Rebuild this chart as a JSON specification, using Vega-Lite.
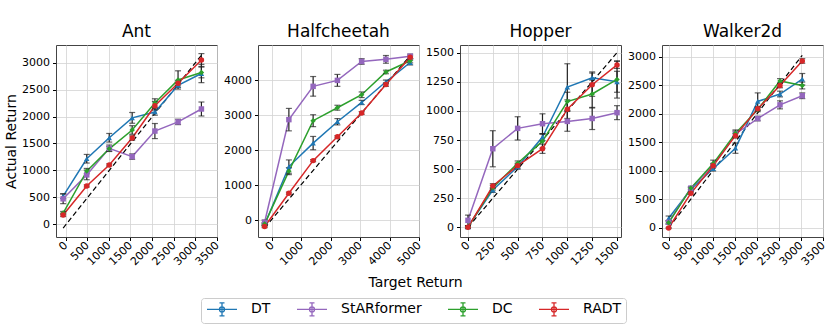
{
  "$schema": "https://vega.github.io/schema/vega-lite/v6.json",
  "padding": {"left": 4, "top": 22, "right": 5, "bottom": 5},
  "datasets": {
    "pts": [
      {"env":"Ant","method":"DT","target":-55,"actual":520,"err":45},
      {"env":"Ant","method":"DT","target":490,"actual":1215,"err":80},
      {"env":"Ant","method":"DT","target":1010,"actual":1605,"err":80},
      {"env":"Ant","method":"DT","target":1540,"actual":1975,"err":100},
      {"env":"Ant","method":"DT","target":2065,"actual":2085,"err":60},
      {"env":"Ant","method":"DT","target":2600,"actual":2580,"err":40},
      {"env":"Ant","method":"DT","target":3140,"actual":2800,"err":170},
      {"env":"Ant","method":"StARformer","target":-55,"actual":470,"err":90},
      {"env":"Ant","method":"StARformer","target":490,"actual":915,"err":90},
      {"env":"Ant","method":"StARformer","target":1010,"actual":1410,"err":60},
      {"env":"Ant","method":"StARformer","target":1540,"actual":1255,"err":50},
      {"env":"Ant","method":"StARformer","target":2065,"actual":1730,"err":140},
      {"env":"Ant","method":"StARformer","target":2600,"actual":1900,"err":50},
      {"env":"Ant","method":"StARformer","target":3140,"actual":2140,"err":130},
      {"env":"Ant","method":"DC","target":-55,"actual":205,"err":30},
      {"env":"Ant","method":"DC","target":490,"actual":985,"err":50},
      {"env":"Ant","method":"DC","target":1010,"actual":1400,"err":40},
      {"env":"Ant","method":"DC","target":1540,"actual":1750,"err":80},
      {"env":"Ant","method":"DC","target":2065,"actual":2250,"err":80},
      {"env":"Ant","method":"DC","target":2600,"actual":2680,"err":170},
      {"env":"Ant","method":"DC","target":3140,"actual":2820,"err":100},
      {"env":"Ant","method":"RADT","target":-55,"actual":170,"err":30},
      {"env":"Ant","method":"RADT","target":490,"actual":710,"err":20},
      {"env":"Ant","method":"RADT","target":1010,"actual":1100,"err":20},
      {"env":"Ant","method":"RADT","target":1540,"actual":1600,"err":40},
      {"env":"Ant","method":"RADT","target":2065,"actual":2200,"err":80},
      {"env":"Ant","method":"RADT","target":2600,"actual":2620,"err":50},
      {"env":"Ant","method":"RADT","target":3140,"actual":3050,"err":120},

      {"env":"Halfcheetah","method":"DT","target":-250,"actual":-130,"err":40},
      {"env":"Halfcheetah","method":"DT","target":575,"actual":1530,"err":190},
      {"env":"Halfcheetah","method":"DT","target":1400,"actual":2200,"err":190},
      {"env":"Halfcheetah","method":"DT","target":2225,"actual":2810,"err":90},
      {"env":"Halfcheetah","method":"DT","target":3050,"actual":3360,"err":60},
      {"env":"Halfcheetah","method":"DT","target":3875,"actual":3950,"err":50},
      {"env":"Halfcheetah","method":"DT","target":4700,"actual":4500,"err":70},
      {"env":"Halfcheetah","method":"StARformer","target":-250,"actual":-60,"err":60},
      {"env":"Halfcheetah","method":"StARformer","target":575,"actual":2870,"err":320},
      {"env":"Halfcheetah","method":"StARformer","target":1400,"actual":3820,"err":280},
      {"env":"Halfcheetah","method":"StARformer","target":2225,"actual":3990,"err":170},
      {"env":"Halfcheetah","method":"StARformer","target":3050,"actual":4530,"err":80},
      {"env":"Halfcheetah","method":"StARformer","target":3875,"actual":4590,"err":110},
      {"env":"Halfcheetah","method":"StARformer","target":4700,"actual":4680,"err":60},
      {"env":"Halfcheetah","method":"DC","target":-250,"actual":-110,"err":40},
      {"env":"Halfcheetah","method":"DC","target":575,"actual":1400,"err":100},
      {"env":"Halfcheetah","method":"DC","target":1400,"actual":2840,"err":170},
      {"env":"Halfcheetah","method":"DC","target":2225,"actual":3210,"err":70},
      {"env":"Halfcheetah","method":"DC","target":3050,"actual":3580,"err":80},
      {"env":"Halfcheetah","method":"DC","target":3875,"actual":4230,"err":50},
      {"env":"Halfcheetah","method":"DC","target":4700,"actual":4550,"err":60},
      {"env":"Halfcheetah","method":"RADT","target":-250,"actual":-180,"err":30},
      {"env":"Halfcheetah","method":"RADT","target":575,"actual":770,"err":30},
      {"env":"Halfcheetah","method":"RADT","target":1400,"actual":1700,"err":30},
      {"env":"Halfcheetah","method":"RADT","target":2225,"actual":2380,"err":30},
      {"env":"Halfcheetah","method":"RADT","target":3050,"actual":3060,"err":40},
      {"env":"Halfcheetah","method":"RADT","target":3875,"actual":3870,"err":50},
      {"env":"Halfcheetah","method":"RADT","target":4700,"actual":4650,"err":40},

      {"env":"Hopper","method":"DT","target":0,"actual":5,"err":10},
      {"env":"Hopper","method":"DT","target":250,"actual":320,"err":20},
      {"env":"Hopper","method":"DT","target":500,"actual":520,"err":20},
      {"env":"Hopper","method":"DT","target":750,"actual":775,"err":30},
      {"env":"Hopper","method":"DT","target":1000,"actual":1205,"err":200},
      {"env":"Hopper","method":"DT","target":1250,"actual":1285,"err":50},
      {"env":"Hopper","method":"DT","target":1500,"actual":1250,"err":90},
      {"env":"Hopper","method":"StARformer","target":0,"actual":60,"err":45},
      {"env":"Hopper","method":"StARformer","target":250,"actual":675,"err":155},
      {"env":"Hopper","method":"StARformer","target":500,"actual":850,"err":100},
      {"env":"Hopper","method":"StARformer","target":750,"actual":890,"err":85},
      {"env":"Hopper","method":"StARformer","target":1000,"actual":910,"err":85},
      {"env":"Hopper","method":"StARformer","target":1250,"actual":935,"err":95},
      {"env":"Hopper","method":"StARformer","target":1500,"actual":985,"err":60},
      {"env":"Hopper","method":"DC","target":0,"actual":0,"err":10},
      {"env":"Hopper","method":"DC","target":250,"actual":340,"err":20},
      {"env":"Hopper","method":"DC","target":500,"actual":550,"err":20},
      {"env":"Hopper","method":"DC","target":750,"actual":740,"err":60},
      {"env":"Hopper","method":"DC","target":1000,"actual":1080,"err":80},
      {"env":"Hopper","method":"DC","target":1250,"actual":1145,"err":120},
      {"env":"Hopper","method":"DC","target":1500,"actual":1270,"err":160},
      {"env":"Hopper","method":"RADT","target":0,"actual":0,"err":10},
      {"env":"Hopper","method":"RADT","target":250,"actual":355,"err":20},
      {"env":"Hopper","method":"RADT","target":500,"actual":530,"err":20},
      {"env":"Hopper","method":"RADT","target":750,"actual":675,"err":40},
      {"env":"Hopper","method":"RADT","target":1000,"actual":1015,"err":80},
      {"env":"Hopper","method":"RADT","target":1250,"actual":1225,"err":100},
      {"env":"Hopper","method":"RADT","target":1500,"actual":1395,"err":30},

      {"env":"Walker2d","method":"DT","target":0,"actual":170,"err":40},
      {"env":"Walker2d","method":"DT","target":505,"actual":680,"err":30},
      {"env":"Walker2d","method":"DT","target":1010,"actual":1040,"err":40},
      {"env":"Walker2d","method":"DT","target":1515,"actual":1400,"err":90},
      {"env":"Walker2d","method":"DT","target":2020,"actual":2220,"err":150},
      {"env":"Walker2d","method":"DT","target":2525,"actual":2350,"err":50},
      {"env":"Walker2d","method":"DT","target":3030,"actual":2610,"err":100},
      {"env":"Walker2d","method":"StARformer","target":0,"actual":100,"err":30},
      {"env":"Walker2d","method":"StARformer","target":505,"actual":700,"err":20},
      {"env":"Walker2d","method":"StARformer","target":1010,"actual":1100,"err":30},
      {"env":"Walker2d","method":"StARformer","target":1515,"actual":1650,"err":50},
      {"env":"Walker2d","method":"StARformer","target":2020,"actual":1920,"err":40},
      {"env":"Walker2d","method":"StARformer","target":2525,"actual":2160,"err":70},
      {"env":"Walker2d","method":"StARformer","target":3030,"actual":2320,"err":50},
      {"env":"Walker2d","method":"DC","target":0,"actual":90,"err":20},
      {"env":"Walker2d","method":"DC","target":505,"actual":700,"err":20},
      {"env":"Walker2d","method":"DC","target":1010,"actual":1130,"err":60},
      {"env":"Walker2d","method":"DC","target":1515,"actual":1660,"err":60},
      {"env":"Walker2d","method":"DC","target":2020,"actual":2080,"err":40},
      {"env":"Walker2d","method":"DC","target":2525,"actual":2580,"err":40},
      {"env":"Walker2d","method":"DC","target":3030,"actual":2500,"err":60},
      {"env":"Walker2d","method":"RADT","target":0,"actual":0,"err":10},
      {"env":"Walker2d","method":"RADT","target":505,"actual":610,"err":20},
      {"env":"Walker2d","method":"RADT","target":1010,"actual":1090,"err":30},
      {"env":"Walker2d","method":"RADT","target":1515,"actual":1620,"err":40},
      {"env":"Walker2d","method":"RADT","target":2020,"actual":2090,"err":30},
      {"env":"Walker2d","method":"RADT","target":2525,"actual":2500,"err":40},
      {"env":"Walker2d","method":"RADT","target":3030,"actual":2930,"err":40}
    ],
    "ideal": [
      {"env":"Ant","target":-55,"actual":-75},
      {"env":"Ant","target":3140,"actual":3140},
      {"env":"Halfcheetah","target":-250,"actual":-220},
      {"env":"Halfcheetah","target":4700,"actual":4700},
      {"env":"Hopper","target":0,"actual":0},
      {"env":"Hopper","target":1500,"actual":1500},
      {"env":"Walker2d","target":0,"actual":0},
      {"env":"Walker2d","target":3030,"actual":3030}
    ]
  },
  "hconcat": [
    {
      "title": "Ant",
      "width": 161, "height": 192,
      "data": {"name": "pts"},
      "transform": [{"filter": "datum.env === 'Ant'"}],
      "encoding": {
        "x": {"field":"target","type":"quantitative","scale":{"domain":[-220,3500],"nice":false,"zero":false},"axis":{"title":null,"values":[0,500,1000,1500,2000,2500,3000,3500]}},
        "y": {"field":"actual","type":"quantitative","scale":{"domain":[-240,3330],"nice":false,"zero":false},"axis":{"title":"Actual Return","titlePadding":3,"values":[0,500,1000,1500,2000,2500,3000]}}
      },
      "layer": [
        {"data":{"name":"ideal"},"transform":[{"filter":"datum.env === 'Ant'"}],"mark":{"type":"line","color":"#000","strokeDash":[5,3],"strokeWidth":1.2},"encoding":{}},
        {"mark":{"type":"line","strokeWidth":1.5},"encoding":{"color":{"field":"method","type":"nominal","scale":{"domain":["DT","StARformer","DC","RADT"],"range":["#1f77b4","#9467bd","#2ca02c","#d62728"]},"legend":{"orient":"none","legendX":145,"legendY":253}}}},
        {"mark":{"type":"errorbar","ticks":true,"size":6,"thickness":1.2,"color":"#222"},"encoding":{"yError":{"field":"err"}}},
        {"transform":[{"filter":"datum.method === 'DT'"}],"mark":{"type":"point","filled":true,"size":30,"opacity":1,"shape":"triangle-up","color":"#1f77b4"}},
        {"transform":[{"filter":"datum.method === 'StARformer'"}],"mark":{"type":"point","filled":true,"size":30,"opacity":1,"shape":"square","color":"#9467bd"}},
        {"transform":[{"filter":"datum.method === 'DC'"}],"mark":{"type":"point","filled":true,"size":30,"opacity":1,"shape":"diamond","color":"#2ca02c"}},
        {"transform":[{"filter":"datum.method === 'RADT'"}],"mark":{"type":"point","filled":true,"size":30,"opacity":1,"shape":"circle","color":"#d62728"}}
      ]
    },
    {
      "title": "Halfcheetah",
      "width": 161, "height": 192,
      "data": {"name": "pts"},
      "transform": [{"filter": "datum.env === 'Halfcheetah'"}],
      "encoding": {
        "x": {"field":"target","type":"quantitative","scale":{"domain":[-475,5000],"nice":false,"zero":false},"axis":{"title":"Target Return","titleX":157,"titleY":49,"titleBaseline":"alphabetic","values":[0,1000,2000,3000,4000,5000]}},
        "y": {"field":"actual","type":"quantitative","scale":{"domain":[-480,5000],"nice":false,"zero":false},"axis":{"title":null,"values":[0,1000,2000,3000,4000]}}
      },
      "layer": [
        {"data":{"name":"ideal"},"transform":[{"filter":"datum.env === 'Halfcheetah'"}],"mark":{"type":"line","color":"#000","strokeDash":[5,3],"strokeWidth":1.2},"encoding":{}},
        {"mark":{"type":"line","strokeWidth":1.5},"encoding":{"color":{"field":"method","type":"nominal"}}},
        {"mark":{"type":"errorbar","ticks":true,"size":6,"thickness":1.2,"color":"#222"},"encoding":{"yError":{"field":"err"}}},
        {"transform":[{"filter":"datum.method === 'DT'"}],"mark":{"type":"point","filled":true,"size":30,"opacity":1,"shape":"triangle-up","color":"#1f77b4"}},
        {"transform":[{"filter":"datum.method === 'StARformer'"}],"mark":{"type":"point","filled":true,"size":30,"opacity":1,"shape":"square","color":"#9467bd"}},
        {"transform":[{"filter":"datum.method === 'DC'"}],"mark":{"type":"point","filled":true,"size":30,"opacity":1,"shape":"diamond","color":"#2ca02c"}},
        {"transform":[{"filter":"datum.method === 'RADT'"}],"mark":{"type":"point","filled":true,"size":30,"opacity":1,"shape":"circle","color":"#d62728"}}
      ]
    },
    {
      "title": "Hopper",
      "width": 161, "height": 192,
      "data": {"name": "pts"},
      "transform": [{"filter": "datum.env === 'Hopper'"}],
      "encoding": {
        "x": {"field":"target","type":"quantitative","scale":{"domain":[-80,1540],"nice":false,"zero":false},"axis":{"title":null,"values":[0,250,500,750,1000,1250,1500]}},
        "y": {"field":"actual","type":"quantitative","scale":{"domain":[-83,1566],"nice":false,"zero":false},"axis":{"title":null,"values":[0,250,500,750,1000,1250,1500]}}
      },
      "layer": [
        {"data":{"name":"ideal"},"transform":[{"filter":"datum.env === 'Hopper'"}],"mark":{"type":"line","color":"#000","strokeDash":[5,3],"strokeWidth":1.2},"encoding":{}},
        {"mark":{"type":"line","strokeWidth":1.5},"encoding":{"color":{"field":"method","type":"nominal"}}},
        {"mark":{"type":"errorbar","ticks":true,"size":6,"thickness":1.2,"color":"#222"},"encoding":{"yError":{"field":"err"}}},
        {"transform":[{"filter":"datum.method === 'DT'"}],"mark":{"type":"point","filled":true,"size":30,"opacity":1,"shape":"triangle-up","color":"#1f77b4"}},
        {"transform":[{"filter":"datum.method === 'StARformer'"}],"mark":{"type":"point","filled":true,"size":30,"opacity":1,"shape":"square","color":"#9467bd"}},
        {"transform":[{"filter":"datum.method === 'DC'"}],"mark":{"type":"point","filled":true,"size":30,"opacity":1,"shape":"diamond","color":"#2ca02c"}},
        {"transform":[{"filter":"datum.method === 'RADT'"}],"mark":{"type":"point","filled":true,"size":30,"opacity":1,"shape":"circle","color":"#d62728"}}
      ]
    },
    {
      "title": "Walker2d",
      "width": 161, "height": 192,
      "data": {"name": "pts"},
      "transform": [{"filter": "datum.env === 'Walker2d'"}],
      "encoding": {
        "x": {"field":"target","type":"quantitative","scale":{"domain":[-150,3500],"nice":false,"zero":false},"axis":{"title":null,"values":[0,500,1000,1500,2000,2500,3000,3500]}},
        "y": {"field":"actual","type":"quantitative","scale":{"domain":[-158,3210],"nice":false,"zero":false},"axis":{"title":null,"values":[0,500,1000,1500,2000,2500,3000]}}
      },
      "layer": [
        {"data":{"name":"ideal"},"transform":[{"filter":"datum.env === 'Walker2d'"}],"mark":{"type":"line","color":"#000","strokeDash":[5,3],"strokeWidth":1.2},"encoding":{}},
        {"mark":{"type":"line","strokeWidth":1.5},"encoding":{"color":{"field":"method","type":"nominal"}}},
        {"mark":{"type":"errorbar","ticks":true,"size":6,"thickness":1.2,"color":"#222"},"encoding":{"yError":{"field":"err"}}},
        {"transform":[{"filter":"datum.method === 'DT'"}],"mark":{"type":"point","filled":true,"size":30,"opacity":1,"shape":"triangle-up","color":"#1f77b4"}},
        {"transform":[{"filter":"datum.method === 'StARformer'"}],"mark":{"type":"point","filled":true,"size":30,"opacity":1,"shape":"square","color":"#9467bd"}},
        {"transform":[{"filter":"datum.method === 'DC'"}],"mark":{"type":"point","filled":true,"size":30,"opacity":1,"shape":"diamond","color":"#2ca02c"}},
        {"transform":[{"filter":"datum.method === 'RADT'"}],"mark":{"type":"point","filled":true,"size":30,"opacity":1,"shape":"circle","color":"#d62728"}}
      ]
    }
  ],
  "spacing": 41,
  "bounds": "flush",
  "config": {
    "font": "DejaVu Sans",
    "view": {"stroke": "#444", "strokeWidth": 1},
    "axis": {"labelFont":"DejaVu Sans","labelFontSize":11,"labelColor":"#000","tickColor":"#000","tickSize":3.5,"domain":false,"gridColor":"#d3d3d3","gridWidth":0.8,"titleFont":"DejaVu Sans","titleFontSize":14,"titleFontWeight":"normal","titleColor":"#000","labelPadding":3,"format":"d","labelOverlap":false,"labelBound":false,"labelFlush":false},
    "axisX": {"labelAngle": -45, "labelAlign": "right", "labelBaseline": "middle"},
    "title": {"fontSize": 17, "font": "DejaVu Sans", "fontWeight": "normal", "color": "#000", "offset": 4},
    "legend": {
      "title": null,
      "direction": "horizontal",
      "columns": 4,
      "labelFont": "DejaVu Sans",
      "labelFontSize": 14,
      "labelColor": "#000",
      "symbolType": "M-3,0H3M-0.5,0A0.5,0.5 0 1,0 0.5,0A0.5,0.5 0 1,0 -0.5,0M0,-1.3V1.3M-0.5,-1.3H0.5M-0.5,1.3H0.5",
      "symbolSize": 100,
      "symbolStrokeWidth": 1.3,
      "symbolOffset": 10,
      "labelOffset": 22,
      "columnPadding": 23,
      "padding": 4,
      "strokeColor": "#cccccc",
      "fillColor": "#ffffff",
      "cornerRadius": 3
    }
  }
}
